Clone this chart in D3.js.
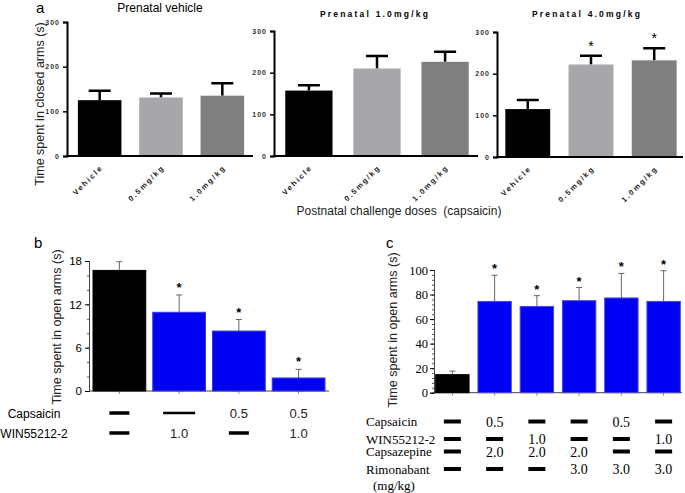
<!DOCTYPE html>
<html>
<head>
<meta charset="utf-8">
<script src="https://cdn.jsdelivr.net/npm/d3@7"></script>
<style>
  body { margin: 0; background: #fff; }
  svg { display: block; }
</style>
</head>
<body>
<script>
// ---- data ----
var aTitles = ["Prenatal vehicle", "Prenatal 1.0mg/kg", "Prenatal 4.0mg/kg"];
var aDoses = ["Vehicle", "0.5mg/kg", "1.0mg/kg"];
var aMeans = [[125, 131, 135], [157, 210, 226], [115, 222, 232]];
var aErrs = [[21, 9, 28], [13, 30, 24], [22, 21, 29]];
var aStars = [[0, 0, 0], [0, 0, 0], [0, 1, 1]];
var aTicks = [0, 100, 200, 300];

var bGroups = ["g1", "g2", "g3", "g4"];
var bMeans = [16.7, 10.9, 8.3, 1.8];
var bErrs = [1.2, 2.4, 1.6, 1.2];
var bStars = [0, 1, 1, 1];
var bTicks = [0, 6, 12, 18];
var bRowNames = ["Capsaicin", "WIN55212-2"];
var bCapsaicin = ["-", "--", "0.5", "0.5"];
var bWin = ["-", "1.0", "-", "1.0"];

var cGroups = ["g1", "g2", "g3", "g4", "g5", "g6"];
var cMeans = [14.7, 74.4, 70.3, 75.0, 77.2, 74.4];
var cErrs = [2.9, 21.3, 8.8, 10.7, 20.0, 25.0];
var cStars = [0, 1, 1, 1, 1, 1];
var cTicks = [0, 20, 40, 60, 80, 100];
var cRowNames = ["Capsaicin", "WIN55212-2", "Capsazepine", "Rimonabant"];
var cCapsaicin = ["-", "0.5", "-", "-", "0.5", "-"];
var cWin = ["-", "-", "1.0", "-", "-", "1.0"];
var cCapsazepine = ["-", "2.0", "2.0", "2.0", "-", "-"];
var cRimonabant = ["-", "-", "-", "3.0", "3.0", "3.0"];

var W = 685, H = 493;
var svg = d3.select("body").append("svg")
    .attr("width", W).attr("height", H)
    .attr("viewBox", "0 0 " + W + " " + H);

var sans = "Arial, 'Liberation Sans', Helvetica, sans-serif",
    serif = "'Times New Roman', 'Liberation Serif', serif";

// ---------- panel a ----------
var aBox = [
  {x0: 67,  x1: 253, top: 22, bot: 156, inner: 0.29, outer: 0.145, tx: 160, ty: 12},
  {x0: 274, x1: 478, top: 31, bot: 156, inner: 0.306, outer: 0.136, tx: 375, ty: 17},
  {x0: 497, x1: 683, top: 32, bot: 157, inner: 0.29, outer: 0.1, tx: 587, ty: 17}
];
var aColors = d3.scaleOrdinal().domain(aDoses).range(["#000000", "#a7a7ab", "#7f7f7f"]);

svg.append("text").attr("x", 36).attr("y", 13)
    .style("font-family", sans).style("font-size", "15px").text("a");

aBox.forEach(function(b, p) {
  var x = d3.scaleBand().domain(aDoses).range([b.x0 + 2, b.x1]).paddingInner(b.inner).paddingOuter(b.outer);
  var y = d3.scaleLinear().domain([0, 300]).range([b.bot, b.top]);
  var g = svg.append("g");

  var ya = g.append("g").attr("transform", "translate(" + b.x0 + ",0)")
      .call(d3.axisLeft(y).tickValues(aTicks).tickSize(4).tickPadding(3));
  ya.select(".domain").attr("stroke-width", 2);
  ya.selectAll(".tick line").attr("stroke-width", 1.5);
  ya.selectAll("text").style("font-family", sans).style("font-size", "7px")
      .style("font-weight", "bold").style("letter-spacing", "1px").attr("fill", "#333");

  g.append("line").attr("x1", b.x0 - 1).attr("x2", b.x1).attr("y1", b.bot).attr("y2", b.bot)
      .attr("stroke", "#000").attr("stroke-width", 2);

  var data = aDoses.map(function(d, i) { return {dose: d, m: aMeans[p][i], e: aErrs[p][i], s: aStars[p][i]}; });

  g.selectAll(".err").data(data).enter().append("path")
      .attr("d", function(d) {
        var cx = x(d.dose) + x.bandwidth() / 2, yt = y(d.m + d.e);
        return "M" + cx + "," + y(d.m) + "V" + yt + "M" + (cx - 11) + "," + yt + "H" + (cx + 11);
      })
      .attr("stroke", "#000").attr("stroke-width", 2.5).attr("fill", "none");

  g.selectAll(".bar").data(data).enter().append("rect")
      .attr("x", function(d) { return x(d.dose); })
      .attr("y", function(d) { return y(d.m); })
      .attr("width", x.bandwidth())
      .attr("height", function(d) { return y(0) - y(d.m) - 1; })
      .attr("fill", function(d) { return aColors(d.dose); });

  g.selectAll(".star").data(data.filter(function(d) { return d.s; })).enter().append("text")
      .attr("x", function(d) { return x(d.dose) + x.bandwidth() / 2; })
      .attr("y", function(d) { return y(d.m + d.e) - 5; })
      .attr("text-anchor", "middle").style("font-family", sans).style("font-size", "14px")
      .text("*");

  g.selectAll(".xl").data(aDoses).enter().append("text")
      .attr("transform", function(d) { return "translate(" + (x(d) + x.bandwidth() / 2 + 4) + "," + (b.bot + 12) + ") rotate(-45)"; })
      .attr("text-anchor", "end")
      .style("font-family", sans).style("font-size", "7.5px").style("font-weight", "bold")
      .style("letter-spacing", "1.9px").attr("fill", "#222")
      .text(function(d) { return d; });

  var t = g.append("text").attr("x", b.tx).attr("y", b.ty).attr("text-anchor", "middle")
      .style("font-family", sans).text(aTitles[p]);
  if (p === 0) t.style("font-size", "12px");
  else t.style("font-size", "8.5px").style("font-weight", "bold").style("letter-spacing", "2.2px");
});

svg.append("text").attr("transform", "translate(44,104) rotate(-90)").attr("text-anchor", "middle")
    .style("font-family", sans).style("font-size", "12.5px").attr("fill", "#222")
    .text("Time spent in closed arms (s)");

svg.append("text").attr("x", 399).attr("y", 215).attr("text-anchor", "middle")
    .style("font-family", sans).style("font-size", "12px").style("white-space", "pre").attr("fill", "#222")
    .text("Postnatal challenge doses  (capsaicin)");

// ---------- shared helpers ----------
function dash(g, cx, cy, w, h) {
  g.append("rect").attr("x", cx - w / 2).attr("y", cy - h / 2).attr("width", w).attr("height", h).attr("fill", "#000");
}

// ---------- panel b ----------
(function() {
  var x = d3.scaleBand().domain(bGroups).range([89, 329]).paddingInner(0.117).paddingOuter(0.067);
  var y = d3.scaleLinear().domain([0, 18]).range([391, 261]);
  var g = svg.append("g");

  svg.append("text").attr("x", 34).attr("y", 248)
      .style("font-family", sans).style("font-size", "15px").text("b");

  var minor = g.append("g").attr("transform", "translate(89,0)")
      .call(d3.axisLeft(y).tickValues(d3.range(0, 19, 2)).tickSize(2).tickFormat(""));
  minor.selectAll("line").attr("stroke", "#555");
  var ya = g.append("g").attr("transform", "translate(89,0)")
      .call(d3.axisLeft(y).tickValues(bTicks).tickSize(4).tickPadding(3));
  ya.selectAll("text").style("font-family", sans).style("font-size", "11.5px");
  ya.select(".domain").attr("stroke", "#444");

  g.append("line").attr("x1", 89).attr("x2", 329).attr("y1", y(0)).attr("y2", y(0)).attr("stroke", "#444");
  g.selectAll(".xt").data(bGroups).enter().append("line")
      .attr("x1", function(d) { return x(d) + x.bandwidth() / 2; })
      .attr("x2", function(d) { return x(d) + x.bandwidth() / 2; })
      .attr("y1", y(0)).attr("y2", y(0) + 3).attr("stroke", "#888");

  var data = bGroups.map(function(d, i) { return {k: d, i: i, m: bMeans[i], e: bErrs[i], s: bStars[i]}; });

  g.selectAll(".err").data(data).enter().append("path")
      .attr("d", function(d) {
        var cx = x(d.k) + x.bandwidth() / 2, yt = y(d.m + d.e);
        return "M" + cx + "," + y(d.m) + "V" + yt + "M" + (cx - 3) + "," + yt + "H" + (cx + 3);
      })
      .attr("stroke", "#666").attr("stroke-width", 1).attr("fill", "none");

  g.selectAll(".bar").data(data).enter().append("rect")
      .attr("x", function(d) { return x(d.k); })
      .attr("y", function(d) { return y(d.m); })
      .attr("width", x.bandwidth())
      .attr("height", function(d) { return y(0) - y(d.m); })
      .attr("fill", function(d) { return d.i === 0 ? "#000" : "#0000f2"; })
      .attr("stroke", function(d) { return d.i === 0 ? "#000" : "#3a3ac8"; });

  g.selectAll(".star").data(data.filter(function(d) { return d.s; })).enter().append("text")
      .attr("x", function(d) { return x(d.k) + x.bandwidth() / 2; })
      .attr("y", function(d) { return y(d.m + d.e) - 3; })
      .attr("text-anchor", "middle").style("font-family", sans).style("font-size", "13px").style("font-weight", "bold")
      .text("*");

  g.append("text").attr("transform", "translate(61,327) rotate(-90)").attr("text-anchor", "middle")
      .style("font-family", sans).style("font-size", "12.5px").attr("fill", "#222")
      .text("Time spent in open arms (s)");

  var rows = [bCapsaicin, bWin], rowY = [413, 433];
  rows.forEach(function(row, r) {
    g.append("text").attr("x", 34).attr("y", rowY[r] + 4.5).attr("text-anchor", "middle")
        .style("font-family", sans).style("font-size", "12px").text(bRowNames[r]);
    row.forEach(function(v, i) {
      var cx = x(bGroups[i]) + x.bandwidth() / 2;
      if (v === "-") dash(g, cx, rowY[r], 20, 3.5);
      else if (v === "--") dash(g, cx, rowY[r], 32, 2.5);
      else g.append("text").attr("x", cx).attr("y", rowY[r] + 5).attr("text-anchor", "middle")
          .style("font-family", sans).style("font-size", "13px").attr("fill", "#222").text(v);
    });
  });
})();

// ---------- panel c ----------
(function() {
  var x = d3.scaleBand().domain(cGroups).range([434, 682]).paddingInner(0.21).paddingOuter(0.04);
  var y = d3.scaleLinear().domain([0, 100]).range([392.7, 270]);
  var g = svg.append("g");

  svg.append("text").attr("x", 386).attr("y", 248)
      .style("font-family", sans).style("font-size", "15px").text("c");

  var minor = g.append("g").attr("transform", "translate(434,0)")
      .call(d3.axisLeft(y).tickValues(d3.range(0, 101, 4)).tickSize(2).tickFormat(""));
  minor.selectAll("line").attr("stroke", "#555");
  var ya = g.append("g").attr("transform", "translate(434,0)")
      .call(d3.axisLeft(y).tickValues(cTicks).tickSize(4).tickPadding(2));
  ya.selectAll("text").style("font-family", serif).style("font-size", "12.5px");
  ya.select(".domain").attr("stroke", "#444");

  g.append("line").attr("x1", 434).attr("x2", 682).attr("y1", y(0)).attr("y2", y(0)).attr("stroke", "#444");
  g.selectAll(".xt").data(cGroups).enter().append("line")
      .attr("x1", function(d) { return x(d) + x.bandwidth() / 2; })
      .attr("x2", function(d) { return x(d) + x.bandwidth() / 2; })
      .attr("y1", y(0)).attr("y2", y(0) + 3).attr("stroke", "#888");

  var data = cGroups.map(function(d, i) { return {k: d, i: i, m: cMeans[i], e: cErrs[i], s: cStars[i]}; });

  g.selectAll(".err").data(data).enter().append("path")
      .attr("d", function(d) {
        var cx = x(d.k) + x.bandwidth() / 2, yt = y(d.m + d.e);
        return "M" + cx + "," + y(d.m) + "V" + yt + "M" + (cx - 3) + "," + yt + "H" + (cx + 3);
      })
      .attr("stroke", "#666").attr("stroke-width", 1).attr("fill", "none");

  g.selectAll(".bar").data(data).enter().append("rect")
      .attr("x", function(d) { return x(d.k); })
      .attr("y", function(d) { return y(d.m); })
      .attr("width", x.bandwidth())
      .attr("height", function(d) { return y(0) - y(d.m); })
      .attr("fill", function(d) { return d.i === 0 ? "#000" : "#0000f2"; })
      .attr("stroke", function(d) { return d.i === 0 ? "#000" : "#4a4ad0"; });

  g.selectAll(".star").data(data.filter(function(d) { return d.s; })).enter().append("text")
      .attr("x", function(d) { return x(d.k) + x.bandwidth() / 2; })
      .attr("y", function(d) { return y(d.m + d.e) - 2; })
      .attr("text-anchor", "middle").style("font-family", sans).style("font-size", "13px").style("font-weight", "bold")
      .text("*");

  g.append("text").attr("transform", "translate(397,330) rotate(-90)").attr("text-anchor", "middle")
      .style("font-family", sans).style("font-size", "12.5px").attr("fill", "#222")
      .text("Time spent in open arms (s)");

  var rows = [cCapsaicin, cWin, cCapsazepine, cRimonabant], rowY = [421.5, 439, 451.5, 469];
  rows.forEach(function(row, r) {
    g.append("text").attr("x", 366).attr("y", rowY[r] + 4.5)
        .style("font-family", serif).style("font-size", "13px").text(cRowNames[r]);
    row.forEach(function(v, i) {
      var cx = x(cGroups[i]) + x.bandwidth() / 2;
      if (v === "-") dash(g, cx, rowY[r], 17, 4);
      else g.append("text").attr("x", cx).attr("y", rowY[r] + 5).attr("text-anchor", "middle")
          .style("font-family", serif).style("font-size", "14px").text(v);
    });
  });
  g.append("text").attr("x", 373).attr("y", 490)
      .style("font-family", serif).style("font-size", "13px").text("(mg/kg)");
})();
</script>
</body>
</html>
